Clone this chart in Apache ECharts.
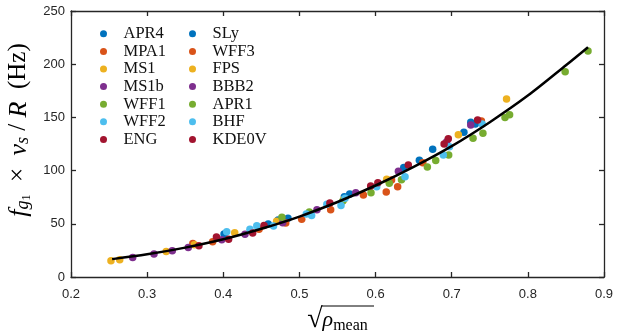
<!DOCTYPE html>
<html>
<head>
<meta charset="utf-8">
<script src="https://cdn.jsdelivr.net/npm/echarts@6/dist/echarts.min.js"></script>
<style>
html,body{margin:0;padding:0;background:#fff;}
#chart{width:628px;height:332px;}
</style>
</head>
<body>
<div id="chart"></div>
<script>
// ---- data ----
const APR4  = [[0.401,40.5],[0.472,53.5],[0.559,75.5],[0.637,103.0],[0.675,120.0],[0.725,145.5]];
const SLy   = [[0.459,49.8],[0.485,55.2],[0.566,78.0],[0.6575,109.7],[0.716,136.1],[0.731,143.8]];
const MPA1  = [[0.360,31.5],[0.447,44.8],[0.503,54.2],[0.584,77.1],[0.621,91.2],[0.662,107.4]];
const WFF3  = [[0.386,33.2],[0.482,50.8],[0.541,63.3],[0.614,80.0],[0.629,84.9],[0.739,146.7]];
const MS1   = [[0.2525,15.3],[0.325,24.0],[0.415,41.6],[0.558,72.5],[0.7087,133.8],[0.772,167.3]];
const FPS   = [[0.264,16.3],[0.362,30.3],[0.470,52.5],[0.6146,91.8]];
const MS1b  = [[0.281,18.3],[0.333,24.7],[0.398,35.0],[0.478,51.0],[0.574,79.2],[0.6934,127.2]];
const BBB2  = [[0.309,21.6],[0.354,27.7],[0.4285,40.1],[0.523,63.3],[0.630,99.5],[0.725,142.9]];
const WFF1  = [[0.477,56.2],[0.557,71.5],[0.618,88.1],[0.668,103.4],[0.696,114.7],[0.741,135.0],[0.776,152.6],[0.879,212.4]];
const APR1  = [[0.513,61.2],[0.594,79.2],[0.634,91.5],[0.679,109.6],[0.728,130.4],[0.770,150.0],[0.849,193.0]];
const WFF2  = [[0.4045,42.6],[0.444,48.1],[0.509,59.2],[0.536,68.3],[0.560,74.0],[0.6387,94.3],[0.697,122.5]];
const BHF   = [[0.435,44.8],[0.466,47.9],[0.516,57.8],[0.5546,67.2],[0.6015,84.9],[0.689,114.7],[0.740,143.8]];
const ENG   = [[0.368,29.4],[0.407,35.4],[0.4535,48.4],[0.5936,85.5],[0.643,105.3],[0.6955,130.0]];
const KDE0V = [[0.391,37.6],[0.4386,41.4],[0.540,69.5],[0.603,88.6],[0.690,125.0],[0.734,147.6]];

// fit curve
const fitX = [0.254,0.30,0.35,0.40,0.45,0.50,0.55,0.60,0.65,0.70,0.75,0.80,0.85,0.879];
const fitY = [16.8,21.3,27.6,35.4,45.3,56.8,70.5,86.0,103.5,123.0,145.5,170.5,199.0,216.0];

const xTicks = [0.2,0.3,0.4,0.5,0.6,0.7,0.8,0.9];
const yTicks = [0,50,100,150,200,250];

const leftNames  = ['APR4','MPA1','MS1','MS1b','WFF1','WFF2','ENG'];
const rightNames = ['SLy','WFF3','FPS','BBB2','APR1','BHF','KDE0V'];
const leftData   = [APR4, MPA1, MS1, MS1b, WFF1, WFF2, ENG];
const rightData  = [SLy, WFF3, FPS, BBB2, APR1, BHF, KDE0V];
const colors = ['#0072BD','#D95319','#EDB120','#7E2F8E','#77AC30','#4DBEEE','#A2142F'];

// ---- chart ----
const axisColor = '#262626';
const serif = "'Liberation Serif', 'Times New Roman', serif";
const sans = "'Liberation Sans', Arial, Helvetica, sans-serif";

const series = [];
for (let i = 0; i < 7; i++) {
  series.push({name:leftNames[i], type:'scatter', data:leftData[i], symbol:'circle', symbolSize:7.5,
    itemStyle:{color:colors[i], opacity:1}, emphasis:{disabled:true}, z:2});
  series.push({name:rightNames[i], type:'scatter', data:rightData[i], symbol:'circle', symbolSize:7.5,
    itemStyle:{color:colors[i], opacity:1}, emphasis:{disabled:true}, z:2});
}
series.push({name:'fit', type:'line', data:fitX.map((x,i)=>[x,fitY[i]]), smooth:0.3, showSymbol:false,
  symbol:'none', lineStyle:{color:'#000', width:2.5}, z:5, emphasis:{disabled:true}});

const legendCommon = {
  orient:'vertical', padding:0, itemWidth:30, itemHeight:7, itemGap:0, icon:'circle',
  selectedMode:false,
  textStyle:{fontFamily:serif, fontSize:16.5, color:'#111', lineHeight:17.6, padding:[0,0,0,0]}
};

const option = {
  animation:false,
  backgroundColor:'#fff',
  grid:{left:71, right:24, top:11, bottom:55, containLabel:false, outerBoundsMode:'none'},
  legend:[
    Object.assign({}, legendCommon, {left:100, top:25, data:leftNames}),
    Object.assign({}, legendCommon, {left:189, top:25, data:rightNames})
  ],
  xAxis:[
    {type:'value', position:'bottom', min:xTicks[0], max:xTicks[xTicks.length-1], interval:0.1,
     axisLine:{show:true, onZero:false, lineStyle:{color:axisColor, width:1.3}},
     axisTick:{show:true, inside:true, length:5, lineStyle:{color:axisColor, width:1.3}},
     axisLabel:{color:axisColor, fontSize:13, fontFamily:sans, margin:11, formatter:v=>v.toFixed(1)},
     splitLine:{show:false},
     name:'{sq|√}{rho|ρ}{sub|mean}', nameLocation:'middle', nameGap:25,
     nameTextStyle:{rich:{
       sq:{fontFamily:serif, fontSize:28, color:'#000', lineHeight:28},
       rho:{fontFamily:serif, fontStyle:'italic', fontSize:22, color:'#000', lineHeight:28},
       sub:{fontFamily:serif, fontSize:16, color:'#000', lineHeight:14, verticalAlign:'bottom'}
     }}
    },
    {type:'value', position:'top', min:xTicks[0], max:xTicks[xTicks.length-1], interval:0.1,
     axisLine:{show:true, onZero:false, lineStyle:{color:axisColor, width:1.3}},
     axisTick:{show:true, inside:true, length:5, lineStyle:{color:axisColor, width:1.3}},
     axisLabel:{show:false}, splitLine:{show:false}}
  ],
  yAxis:[
    {type:'value', position:'left', min:yTicks[0], max:yTicks[yTicks.length-1], interval:50,
     axisLine:{show:true, onZero:false, lineStyle:{color:axisColor, width:1.3}},
     axisTick:{show:true, inside:true, length:5, lineStyle:{color:axisColor, width:1.3}},
     axisLabel:{color:axisColor, fontSize:13, fontFamily:sans, margin:6},
     splitLine:{show:false},
     name:'{f|f}{g|g}{one|1}{op|  ×  }{f|v}{s|s}{op| / }{f|R}{op|  (Hz)}',
     nameLocation:'middle', nameRotate:90, nameGap:32,
     nameTextStyle:{padding:[0,0,0,28], rich:{
       f:{fontFamily:serif, fontStyle:'italic', fontSize:26, color:'#000', lineHeight:27},
       g:{fontFamily:serif, fontStyle:'italic', fontSize:18, color:'#000', lineHeight:17, verticalAlign:'bottom'},
       one:{fontFamily:serif, fontSize:12, color:'#000', lineHeight:6, verticalAlign:'bottom'},
       s:{fontFamily:serif, fontStyle:'italic', fontSize:18, color:'#000', lineHeight:17, verticalAlign:'bottom'},
       op:{fontFamily:serif, fontSize:25, color:'#000', lineHeight:27}
     }}
    },
    {type:'value', position:'right', min:yTicks[0], max:yTicks[yTicks.length-1], interval:50,
     axisLine:{show:true, onZero:false, lineStyle:{color:axisColor, width:1.3}},
     axisTick:{show:true, inside:true, length:5, lineStyle:{color:axisColor, width:1.3}},
     axisLabel:{show:false}, splitLine:{show:false}}
  ],
  graphic:[
    {type:'line', shape:{x1:322, y1:306, x2:374, y2:306}, style:{stroke:'#000', lineWidth:1}, silent:true}
  ],
  series:series
};

const chart = echarts.init(document.getElementById('chart'), null, {renderer:'canvas'});
chart.setOption(option);
</script>
</body>
</html>
